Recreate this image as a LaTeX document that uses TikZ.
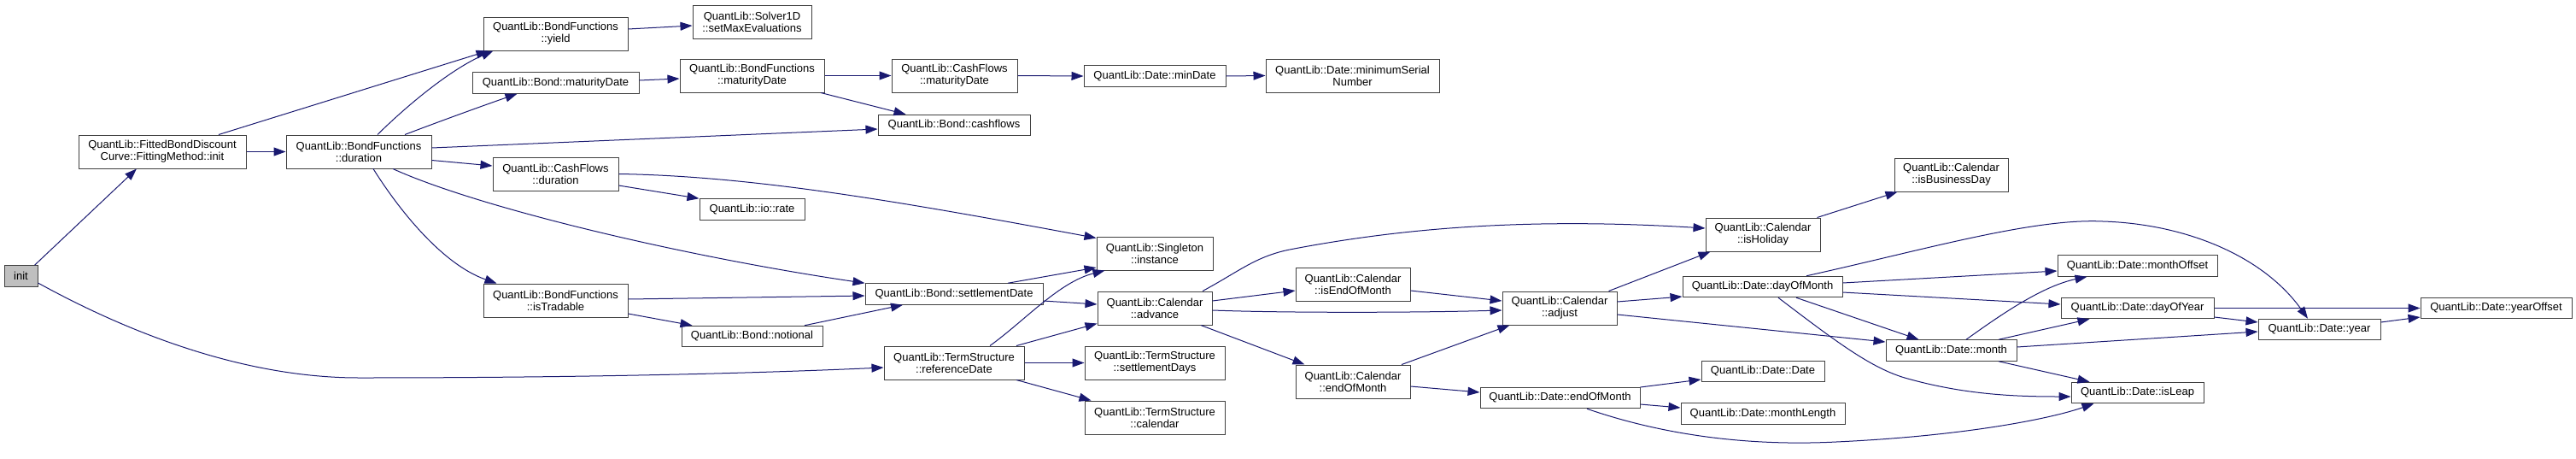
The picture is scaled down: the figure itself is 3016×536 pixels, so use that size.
\documentclass[tikz,border=0pt]{standalone}
\usepackage{fontspec}
\setmainfont{Liberation Sans}
\usetikzlibrary{arrows.meta}
\definecolor{edgec}{HTML}{191970}
\definecolor{boxc}{HTML}{404040}
\definecolor{rootfill}{HTML}{BFBFBF}
\begin{document}
\begin{tikzpicture}[x=1pt,y=-1pt,
  box/.style={draw=boxc, line width=1pt, fill=white, inner sep=0pt, align=center,
    font=\fontsize{13}{14}\selectfont},
  one/.style={minimum height=24.5pt},
  two/.style={minimum height=39pt},
  e/.style={draw=edgec, line width=1pt, -{Triangle[length=14pt,width=10pt]}}]
\useasboundingbox (0,0) rectangle (3016,536);
% nodes
\node[box, one, fill=rootfill, minimum width=39pt] (init) at (24.5,323) {init};
\node[box, two, minimum width=196pt] (fitted) at (190,177.5) {QuantLib::FittedBondDiscount\\Curve::FittingMethod::init};
\node[box, two, minimum width=170pt] (dur) at (420,177.5) {QuantLib::BondFunctions\\::duration};
\node[box, two, minimum width=169pt] (yield) at (650.5,39.5) {QuantLib::BondFunctions\\::yield};
\node[box, one, minimum width=195pt] (bmat) at (650.5,97) {QuantLib::Bond::maturityDate};
\node[box, two, minimum width=147pt] (cfdur) at (650.5,203.5) {QuantLib::CashFlows\\::duration};
\node[box, two, minimum width=169pt] (istrad) at (650.5,351.5) {QuantLib::BondFunctions\\::isTradable};
\node[box, two, minimum width=139pt] (solver) at (880.5,25.5) {QuantLib::Solver1D\\::setMaxEvaluations};
\node[box, two, minimum width=169pt] (bfmat) at (880.5,88.5) {QuantLib::BondFunctions\\::maturityDate};
\node[box, one, minimum width=123pt] (iorate) at (880.5,245) {QuantLib::io::rate};
\node[box, one, minimum width=165pt] (notional) at (880.5,393.5) {QuantLib::Bond::notional};
\node[box, two, minimum width=147pt] (cfmat) at (1117.5,88.5) {QuantLib::CashFlows\\::maturityDate};
\node[box, one, minimum width=178pt] (cashflows) at (1117,146.5) {QuantLib::Bond::cashflows};
\node[box, one, minimum width=208pt] (settle) at (1117,344) {QuantLib::Bond::settlementDate};
\node[box, two, minimum width=164pt] (refdate) at (1117,424.5) {QuantLib::TermStructure\\::referenceDate};
\node[box, one, minimum width=166pt] (mindate) at (1352,89) {QuantLib::Date::minDate};
\node[box, two, minimum width=136pt] (singleton) at (1352,296.5) {QuantLib::Singleton\\::instance};
\node[box, two, minimum width=134pt] (advance) at (1352,360.5) {QuantLib::Calendar\\::advance};
\node[box, two, minimum width=164pt] (setdays) at (1352,424.5) {QuantLib::TermStructure\\::settlementDays};
\node[box, two, minimum width=164pt] (tscal) at (1352,488.5) {QuantLib::TermStructure\\::calendar};
\node[box, two, minimum width=203pt] (minserial) at (1583.5,88.5) {QuantLib::Date::minimumSerial\\Number};
\node[box, two, minimum width=134pt] (iseom) at (1584,332.5) {QuantLib::Calendar\\::isEndOfMonth};
\node[box, two, minimum width=134pt] (caleom) at (1584,446.5) {QuantLib::Calendar\\::endOfMonth};
\node[box, two, minimum width=134pt] (adjust) at (1826,360.5) {QuantLib::Calendar\\::adjust};
\node[box, one, minimum width=187pt] (dateeom) at (1826.5,465.5) {QuantLib::Date::endOfMonth};
\node[box, two, minimum width=134pt] (isholiday) at (2064,274.5) {QuantLib::Calendar\\::isHoliday};
\node[box, one, minimum width=187pt] (dom) at (2063.5,335.5) {QuantLib::Date::dayOfMonth};
\node[box, one, minimum width=144pt] (datedate) at (2064,434.5) {QuantLib::Date::Date};
\node[box, one, minimum width=192pt] (mlength) at (2064,484) {QuantLib::Date::monthLength};
\node[box, two, minimum width=133pt] (isbday) at (2284.5,204.5) {QuantLib::Calendar\\::isBusinessDay};
\node[box, one, minimum width=153pt] (month) at (2284.5,410) {QuantLib::Date::month};
\node[box, one, minimum width=187pt] (moffset) at (2502.5,311) {QuantLib::Date::monthOffset};
\node[box, one, minimum width=179pt] (doy) at (2502.5,360.5) {QuantLib::Date::dayOfYear};
\node[box, one, minimum width=155pt] (isleap) at (2502.5,459.5) {QuantLib::Date::isLeap};
\node[box, one, minimum width=143pt] (year) at (2715.5,385.5) {QuantLib::Date::year};
\node[box, one, minimum width=177pt] (yoffset) at (2922.5,360.5) {QuantLib::Date::yearOffset};
% edges
\draw[e] ([xshift=-4pt]init.north east) -- ([xshift=-30pt]fitted.south);
\draw[e] ([yshift=-8pt]init.east) .. controls (170,400) and (300,442) .. (420,442) .. controls (700,442) and (900,436) .. ([yshift=-5.5pt]refdate.west);
\draw[e] (fitted.east) -- (dur.west);
\draw[e] ([xshift=66pt]fitted.north) -- ([xshift=6pt]yield.south west);
\draw[e] ([xshift=22pt]dur.north) .. controls (480,120) and (530,80) .. ([xshift=12pt]yield.south west);
\draw[e] ([xshift=54pt]dur.north) .. controls (520,140) and (570,122) .. ([xshift=-45pt]bmat.south);
\draw[e] ([yshift=4.5pt]dur.east) -- ([yshift=-4.5pt]cashflows.west);
\draw[e] ([yshift=-10pt]dur.east) -- ([yshift=9.5pt]cfdur.west);
\draw[e] ([xshift=40pt]dur.south) .. controls (560,243) and (800,300) .. (settle.north west);
\draw[e] ([xshift=17pt]dur.south) .. controls (470,250) and (520,310) .. ([xshift=16pt]istrad.north west);
\draw[e] (cfdur.east) .. controls (880,206) and (1050,235) .. ([yshift=18pt]singleton.west);
\draw[e] ([yshift=-13.5pt]cfdur.east) -- (iorate.north west);
\draw[e] ([yshift=1.5pt]istrad.east) -- ([yshift=-2pt]settle.west);
\draw[e] ([yshift=-15.5pt]istrad.east) -- ([xshift=13pt]notional.north west);
\draw[e] ([xshift=61.5pt]notional.north) -- ([xshift=-60pt]settle.south);
\draw[e] ([xshift=63pt]settle.north) -- ([yshift=-16.5pt]singleton.west);
\draw[e] ([yshift=-8pt]settle.east) -- ([yshift=4.5pt]advance.west);
\draw[e] ([xshift=42pt]refdate.north) .. controls (1200,375) and (1240,330) .. ([xshift=10pt]singleton.south west);
\draw[e] ([xshift=73pt]refdate.north) -- ([yshift=2pt]advance.south west);
\draw[e] (refdate.east) -- (setdays.west);
\draw[e] ([xshift=73pt]refdate.south) -- ([xshift=8pt]tscal.north west);
\draw[e] ([yshift=5.5pt]yield.east) -- ([yshift=-4.5pt]solver.west);
\draw[e] ([yshift=3pt]bmat.east) -- ([yshift=-3.5pt]bfmat.west);
\draw[e] (bfmat.east) -- (cfmat.west);
\draw[e] ([xshift=80.5pt]bfmat.south) -- ([xshift=33pt]cashflows.north west);
\draw[e] (cfmat.east) -- (mindate.west);
\draw[e] (mindate.east) -- (minserial.west);
\draw[e] ([xshift=56pt]advance.north) .. controls (1450,318) and (1470,300) .. (1510,292) .. controls (1650,265) and (1800,255) .. ([yshift=7.5pt]isholiday.west);
\draw[e] ([yshift=8.5pt]advance.east) -- ([yshift=-7.5pt]iseom.west);
\draw[e] ([yshift=-2.5pt]advance.east) .. controls (1500,366) and (1650,366) .. ([yshift=-2.5pt]adjust.west);
\draw[e] ([xshift=54pt]advance.south) -- ([xshift=11pt]caleom.north west);
\draw[e] ([yshift=-7.5pt]iseom.east) -- ([yshift=8.5pt]adjust.west);
\draw[e] ([xshift=57pt]caleom.north) -- ([xshift=9pt]adjust.south west);
\draw[e] ([yshift=-5.5pt]caleom.east) -- ([yshift=6.5pt]dateeom.west);
\draw[e] ([xshift=-10pt]adjust.north east) -- ([xshift=6pt]isholiday.south west);
\draw[e] ([yshift=7.5pt]adjust.east) -- ([yshift=-11.5pt]dom.west);
\draw[e] ([yshift=-7.5pt]adjust.east) -- ([yshift=10pt]month.west);
\draw[e] ([xshift=-4pt]isholiday.north east) -- ([xshift=4pt]isbday.south west);
\draw[e] ([xshift=51.5pt]dom.north) .. controls (2250,293) and (2380,255) .. (2462,259) .. controls (2560,262) and (2650,300) .. ([xshift=-13.5pt]year.north);
\draw[e] ([yshift=4.5pt]dom.east) -- ([yshift=-6pt]moffset.west);
\draw[e] ([yshift=-6.5pt]dom.east) -- ([yshift=4.5pt]doy.west);
\draw[e] ([xshift=39.5pt]dom.south) -- ([xshift=39pt]month.north west);
\draw[e] ([xshift=18.5pt]dom.south) .. controls (2150,400) and (2190,430) .. (2230,442) .. controls (2300,462) and (2360,464) .. ([yshift=-4.5pt]isleap.west);
\draw[e] ([xshift=17.5pt]month.north) .. controls (2340,370) and (2390,335) .. ([xshift=35pt]moffset.south west);
\draw[e] ([xshift=55.5pt]month.north) -- ([xshift=34pt]doy.south west);
\draw[e] ([yshift=4pt]month.east) -- ([yshift=-2.5pt]year.west);
\draw[e] ([xshift=55.5pt]month.south) -- ([xshift=22pt]isleap.north west);
\draw[e] ([xshift=31.5pt]dateeom.south) .. controls (1950,510) and (2050,522) .. (2150,517) .. controls (2300,510) and (2400,490) .. ([xshift=27pt]isleap.south west);
\draw[e] ([yshift=12.5pt]dateeom.east) -- ([yshift=-9.5pt]datedate.west);
\draw[e] ([yshift=-7.5pt]dateeom.east) -- ([yshift=7pt]mlength.west);
\draw[e] (doy.east) -- (yoffset.west);
\draw[e] ([yshift=-10.5pt]doy.east) -- ([yshift=8.5pt]year.west);
\draw[e] ([yshift=8.5pt]year.east) -- ([yshift=-10.5pt]yoffset.west);
\end{tikzpicture}
\end{document}
